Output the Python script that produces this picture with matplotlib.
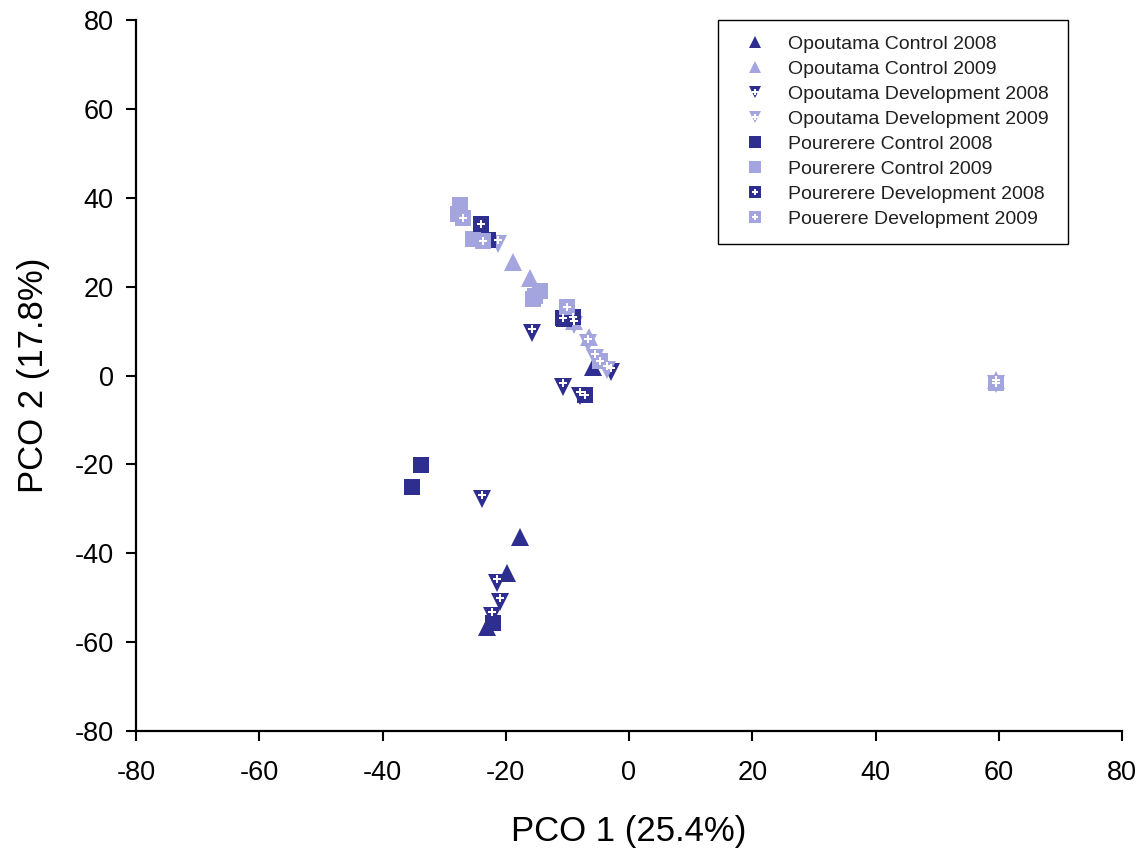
import matplotlib
matplotlib.use("Agg")
import matplotlib.pyplot as plt
from matplotlib.legend_handler import HandlerTuple
from matplotlib.lines import Line2D

plt.rcParams['font.family'] = ['Liberation Sans', 'DejaVu Sans']
plt.rcParams['axes.unicode_minus'] = False

DARK = '#2E2E90'
LIGHT = '#A4A4DF'

labels = [
    "Opoutama Control 2008",
    "Opoutama Control 2009",
    "Opoutama Development 2008",
    "Opoutama Development 2009",
    "Pourerere Control 2008",
    "Pourerere Control 2009",
    "Pourerere Development 2008",
    "Pouerere Development 2009",
]

# PCO scores (axis 1, axis 2) for each group
opo_ctrl_08_x = [-5.8, -17.7, -19.8, -23.0, -22.2]
opo_ctrl_08_y = [2.0, -36.3, -44.4, -56.5, -54.5]

opo_ctrl_09_x = [-18.8, -16.1, -6.5, -9.0, 59.6]
opo_ctrl_09_y = [25.5, 21.9, 8.6, 12.2, -1.0]

opo_dev_08_x = [-15.7, -10.7, -8.0, -23.9, -21.4, -20.9, -22.3, -3.0]
opo_dev_08_y = [9.6, -2.6, -4.6, -27.8, -46.7, -51.0, -54.2, 0.8]

opo_dev_09_x = [-21.3, -9.0, -6.6, -5.5, -3.6, 59.6]
opo_dev_09_y = [29.6, 11.3, 7.3, 3.9, 1.3, -2.0]

pou_ctrl_08_x = [-33.8, -35.2, -22.0, -22.8, -10.6]
pou_ctrl_08_y = [-20.1, -25.1, -55.8, 30.5, 12.8]

pou_ctrl_09_x = [-27.5, -27.8, -25.3, -15.6, -14.4, -15.3]
pou_ctrl_09_y = [38.3, 36.3, 30.8, 17.3, 19.0, 18.0]

pou_dev_08_x = [-24.0, -10.7, -9.1, -7.1]
pou_dev_08_y = [34.2, 12.9, 13.2, -4.4]

pou_dev_09_x = [-26.9, -23.7, -10.0, -4.7, 59.6]
pou_dev_09_y = [35.4, 30.2, 15.4, 3.3, -1.6]

series = [
    (opo_ctrl_08_x, opo_ctrl_08_y, '^', DARK, False),
    (opo_ctrl_09_x, opo_ctrl_09_y, '^', LIGHT, False),
    (opo_dev_08_x, opo_dev_08_y, 'v', DARK, True),
    (opo_dev_09_x, opo_dev_09_y, 'v', LIGHT, True),
    (pou_ctrl_08_x, pou_ctrl_08_y, 's', DARK, False),
    (pou_ctrl_09_x, pou_ctrl_09_y, 's', LIGHT, False),
    (pou_dev_08_x, pou_dev_08_y, 's', DARK, True),
    (pou_dev_09_x, pou_dev_09_y, 's', LIGHT, True),
]

fig = plt.figure(figsize=(11.45, 8.5), dpi=100)
ax = fig.add_axes([136 / 1145, 1 - 731 / 850, 986 / 1145, 711 / 850])

sizes = {'^': 13, 'v': 13, 's': 12}
handles = []
for (xs, ys, mk, col, dot), lab in zip(series, labels):
    ax.plot(xs, ys, linestyle='none', marker=mk, markersize=sizes[mk],
            markerfacecolor=col, markeredgewidth=0, zorder=3)
    h = [Line2D([], [], linestyle='none', marker=mk, markersize=8.5,
                markerfacecolor=col, markeredgewidth=0)]
    if dot:
        yc = list(ys)
        if mk == 'v':
            # centroid of a downward triangle sits above its middle
            yc = [v + 0.9 for v in ys]
        ax.plot(xs, yc, linestyle='none', marker='P', markersize=6,
                markerfacecolor='white', markeredgewidth=0, zorder=4)
        h.append(Line2D([], [], linestyle='none', marker='P', markersize=4,
                        markerfacecolor='white', markeredgewidth=0))
    handles.append(tuple(h))

ax.set_xlim(-80, 80)
ax.set_ylim(-80, 80)
ax.set_xticks(range(-80, 81, 20))
ax.set_yticks(range(-80, 81, 20))
ax.tick_params(axis='both', direction='out', length=7, width=1.5,
               labelsize=19.5, colors='black')
ax.tick_params(axis='x', pad=14)
ax.tick_params(axis='y', pad=9)
for s in ['top', 'right']:
    ax.spines[s].set_visible(False)
for s in ['left', 'bottom']:
    ax.spines[s].set_linewidth(1.6)

ax.set_xlabel("PCO 1 (25.4%)", fontsize=25, labelpad=21)
ax.set_ylabel("PCO 2 (17.8%)", fontsize=25, labelpad=18)

leg = ax.legend(handles, labels, loc='upper left',
                bbox_to_anchor=(582 / 986, 0.0, 350 / 986, 1.0),
                mode='expand', borderaxespad=0, fontsize=14,
                handler_map={tuple: HandlerTuple(ndivide=1, pad=0)},
                handlelength=2.2, handletextpad=0.6, labelspacing=0.38,
                borderpad=0.8, fancybox=False, framealpha=1,
                edgecolor='black')
leg.get_frame().set_linewidth(1.0)
for t in leg.get_texts():
    t.set_color('#202020')

fig.savefig('out.png', dpi=100)
